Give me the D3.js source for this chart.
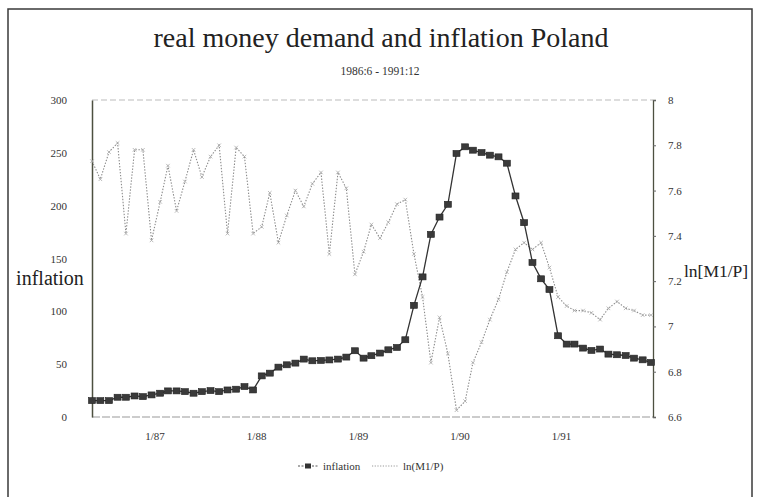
<!DOCTYPE html>
<html>
<head>
<meta charset="utf-8">
<script src="https://cdn.jsdelivr.net/npm/d3@7"></script>
<style>
    body { margin: 0; background: #fff; }
    svg { display: block; font-family: "Liberation Serif", "DejaVu Serif", serif; }
</style>
</head>
<body>
<div id="chart"></div>
<script>
'use strict';

// monthly series, 1986:6 .. 1991:12
const start_month = [1986, 6], end_month = [1991, 12];

const inflation = [
    15.5, 15.5, 15.5, 18.7, 18.7, 19.9, 19.3, 20.9, 22.5, 24.7, 24.7, 24, 22.5, 24, 25, 24, 25.6, 26.3, 28.8, 25.6,
    38.9, 41.5, 47.2, 49.4, 51, 54.8, 53.2, 53.5, 54, 54.8, 56.7, 62.7,
    55.7, 58, 60.5, 63.6, 65.8, 73.1, 105.7, 132.6, 172.8, 189.2, 201.3, 249.4,
    255.7, 252.5, 250.3, 247.8, 246.2, 240.2, 209.2, 183.9, 146.2, 130.8, 120.6, 76.9,
    69, 69, 65.2, 63, 64.3, 59.5, 58.9, 58.2, 55.7, 54.1, 51.6
];

const ln_m1p = [
    7.73, 7.65, 7.77, 7.81, 7.41, 7.78, 7.78, 7.38, 7.55, 7.71, 7.51, 7.64, 7.78, 7.66, 7.75, 7.80, 7.41, 7.79, 7.75, 7.41, 7.44, 7.59,
    7.37, 7.49, 7.60, 7.53, 7.63, 7.68, 7.32, 7.68, 7.61, 7.23, 7.33, 7.45, 7.39, 7.46, 7.54, 7.56, 7.32, 7.13, 6.84, 7.04, 6.88, 6.63,
    6.67, 6.84, 6.93, 7.03, 7.12, 7.24, 7.34, 7.37, 7.34, 7.37, 7.26, 7.13, 7.09, 7.07, 7.07, 7.06, 7.03, 7.08, 7.11, 7.08, 7.07, 7.05, 7.05
];

const left_ticks = [0, 50, 100, 150, 200, 250, 300];
const right_ticks = [6.6, 6.8, 7, 7.2, 7.4, 7.6, 7.8, 8];
const right_tick_labels = ['6.6', '6.8', '7', '7.2', '7.4', '7.6', '7.8', '8'];
const x_tick_years = [1987, 1988, 1989, 1990, 1991];

const title = 'real money demand and inflation Poland';
const subtitle = '1986:6 - 1991:12';

const width = 760, height = 497;
const plot = {left: 92, right: 651, top: 100, bottom: 417, axis_right: 653};
const text_color = '#333';

const months = d3.timeMonth.range(
    new Date(start_month[0], start_month[1] - 1, 1),
    new Date(end_month[0], end_month[1], 1));

const x = d3.scaleTime()
    .domain([months[0], months[months.length - 1]])
    .range([plot.left, plot.right]);
const y_left = d3.scaleLinear().domain([0, 300]).range([plot.bottom, plot.top]);
const y_right = d3.scaleLinear().domain([6.6, 8]).range([plot.bottom, plot.top]);

const svg = d3.select('#chart').append('svg')
    .attr('width', width)
    .attr('height', height);

svg.append('rect')
    .attr('width', width).attr('height', height)
    .attr('fill', '#fff');

// outer frame
svg.append('rect')
    .attr('x', 8).attr('y', 9)
    .attr('width', 744).attr('height', 500)
    .attr('fill', 'none')
    .attr('stroke', '#3a3a3a')
    .attr('stroke-width', 1.5);

svg.append('text')
    .attr('x', 381).attr('y', 47)
    .attr('text-anchor', 'middle')
    .attr('font-size', 28)
    .attr('fill', '#222')
    .text(title);

svg.append('text')
    .attr('x', 380).attr('y', 75)
    .attr('text-anchor', 'middle')
    .attr('font-size', 11.5)
    .attr('fill', text_color)
    .text(subtitle);

// faint top and bottom frame lines
svg.append('line')
    .attr('x1', plot.left).attr('x2', plot.axis_right)
    .attr('y1', plot.top).attr('y2', plot.top)
    .attr('stroke', '#bbb').attr('stroke-dasharray', '6,3');
svg.append('line')
    .attr('x1', plot.left).attr('x2', plot.axis_right)
    .attr('y1', plot.bottom).attr('y2', plot.bottom)
    .attr('stroke', '#999').attr('stroke-dasharray', '8,2');

function style_ticks(g) {
    g.attr('font-family', null).attr('font-size', 11);
    g.selectAll('text').attr('fill', text_color);
}

// left axis
const left_axis = d3.axisLeft(y_left)
    .tickValues(left_ticks)
    .tickSize(0)
    .tickPadding(25)
    .tickFormat(d3.format('d'));
const left_g = svg.append('g')
    .attr('transform', `translate(${plot.left},0)`)
    .call(left_axis)
    .call(style_ticks);
left_g.select('.domain').attr('stroke', '#4d5040').attr('stroke-width', 1.5);

// right axis
const right_axis = d3.axisRight(y_right)
    .tickValues(right_ticks)
    .tickSize(3)
    .tickPadding(12)
    .tickFormat((d, i) => right_tick_labels[i]);
const right_g = svg.append('g')
    .attr('transform', `translate(${plot.axis_right},0)`)
    .call(right_axis)
    .call(style_ticks);
right_g.select('.domain').attr('stroke', '#4d5040').attr('stroke-width', 1.3);
right_g.selectAll('.tick line').attr('stroke', '#666');

// x axis labels
const x_axis = d3.axisBottom(x)
    .tickValues(x_tick_years.map(yr => new Date(yr, 0, 1)))
    .tickSize(0)
    .tickPadding(15)
    .tickFormat(d3.timeFormat('1/%y'));
const x_g = svg.append('g')
    .attr('transform', `translate(0,${plot.bottom})`)
    .call(x_axis)
    .call(style_ticks);
x_g.select('.domain').remove();
x_g.selectAll('text').attr('dx', 3);

// axis titles
svg.append('text')
    .attr('x', 50).attr('y', 285)
    .attr('text-anchor', 'middle')
    .attr('font-size', 20)
    .attr('fill', '#222')
    .text('inflation');
svg.append('text')
    .attr('x', 684).attr('y', 277)
    .attr('text-anchor', 'start')
    .attr('font-size', 17.5)
    .attr('fill', '#222')
    .text('ln[M1/P]');

// ln(M1/P) series: dotted with small crosses
const ln_line = d3.line()
    .x((d, i) => x(months[i]))
    .y(d => y_right(d));
svg.append('path')
    .datum(ln_m1p)
    .attr('d', ln_line)
    .attr('fill', 'none')
    .attr('stroke', '#8a8a8a')
    .attr('stroke-width', 1.1)
    .attr('stroke-dasharray', '1.4,1.6');
svg.append('g').selectAll('path')
    .data(ln_m1p)
    .join('path')
    .attr('transform', (d, i) => `translate(${x(months[i])},${y_right(d)})`)
    .attr('d', d3.symbol(d3.symbolX, 10))
    .attr('fill', 'none')
    .attr('stroke', '#aaa')
    .attr('stroke-width', 0.8);

// inflation series: dark line with square markers
const infl_line = d3.line()
    .x((d, i) => x(months[i]))
    .y(d => y_left(d));
svg.append('path')
    .datum(inflation)
    .attr('d', infl_line)
    .attr('fill', 'none')
    .attr('stroke', '#333')
    .attr('stroke-width', 1.3);
svg.append('g').selectAll('rect')
    .data(inflation)
    .join('rect')
    .attr('x', (d, i) => x(months[i]) - 3.5)
    .attr('y', d => y_left(d) - 3)
    .attr('width', 7).attr('height', 6)
    .attr('fill', '#3a3a3a')
    .attr('stroke', '#222')
    .attr('stroke-width', 0.6);

// legend
const legend = svg.append('g').attr('transform', 'translate(0,466)');
legend.append('line')
    .attr('x1', 298).attr('x2', 319).attr('y1', 0).attr('y2', 0)
    .attr('stroke', '#555').attr('stroke-dasharray', '2,1.5');
legend.append('rect')
    .attr('x', 305).attr('y', -2.5).attr('width', 6).attr('height', 5)
    .attr('fill', '#333');
legend.append('text')
    .attr('x', 323).attr('y', 4)
    .attr('font-size', 11).attr('fill', text_color)
    .text('inflation');
legend.append('line')
    .attr('x1', 372).attr('x2', 398).attr('y1', 0).attr('y2', 0)
    .attr('stroke', '#999').attr('stroke-dasharray', '1.2,1.5');
legend.append('text')
    .attr('x', 403).attr('y', 4)
    .attr('font-size', 11).attr('fill', text_color)
    .text('ln(M1/P)');
</script>
</body>
</html>
